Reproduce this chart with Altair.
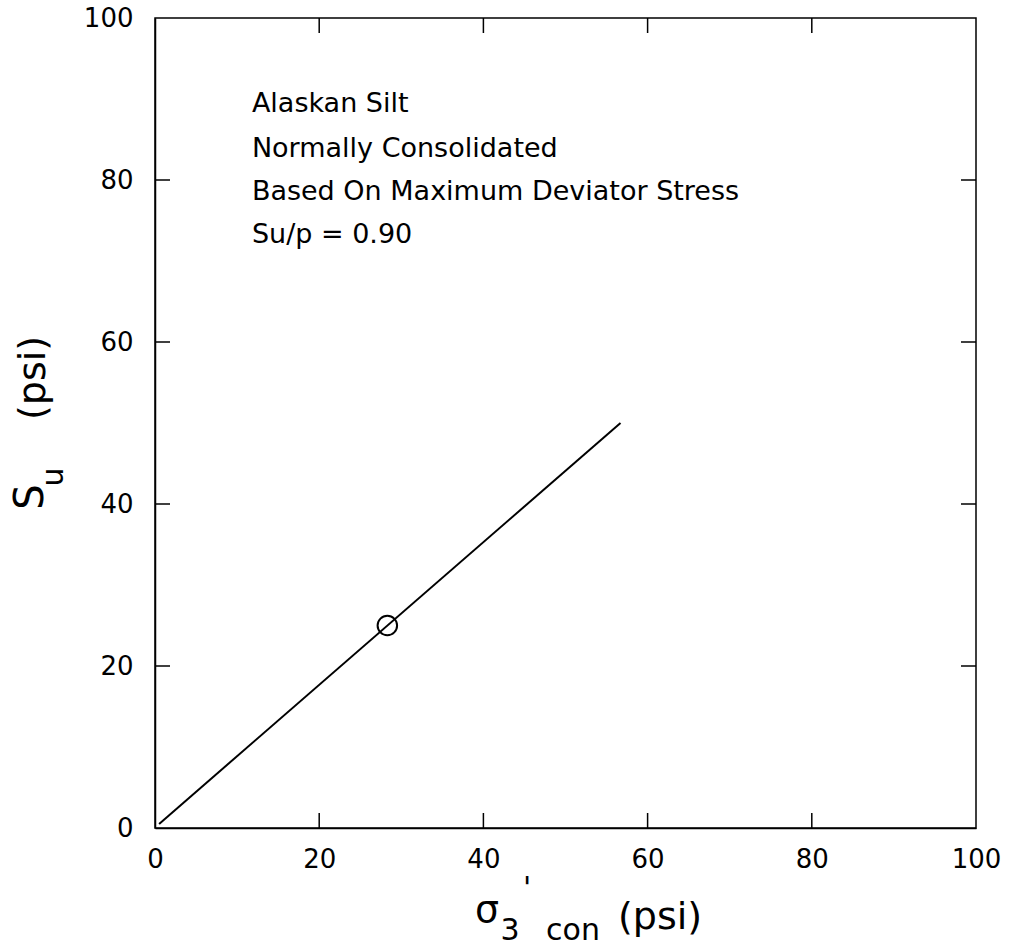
import altair as alt
import pandas as pd

# Data
line_x = [0.5, 56.7]
line_y = [0.5, 50.0]
point_x = [28.3]
point_y = [25.0]
tick_vals = [20, 40, 60, 80]
axis_vals = [0, 20, 40, 60, 80, 100]
notes = ["Alaskan Silt", "Normally Consolidated",
         "Based On Maximum Deviator Stress", "Su/p = 0.90"]
note_x = [11.8, 11.8, 11.8, 11.8]
note_y = [88.4, 82.9, 77.5, 72.2]

FONT = "DejaVu Sans"
W, H = 821, 810

xs = alt.Scale(domain=[0, 100], nice=False)
ys = alt.Scale(domain=[0, 100], nice=False)

line_df = pd.DataFrame({"x": line_x, "y": line_y})
pt_df = pd.DataFrame({"x": point_x, "y": point_y})
tick_df = pd.DataFrame({"t": tick_vals})
note_df = pd.DataFrame({"x": note_x, "y": note_y, "label": notes})

xaxis = alt.Axis(values=axis_vals, ticks=False, grid=False, title=None,
                 labelFontSize=26, labelFont=FONT, labelColor="black",
                 labelPadding=18, domainColor="black", domainWidth=1.5,
                 labelFlush=False)
yaxis = alt.Axis(values=axis_vals, ticks=False, grid=False, title=None,
                 labelFontSize=26, labelFont=FONT, labelColor="black",
                 labelPadding=22, domainColor="black", domainWidth=1.5,
                 labelFlush=False)

line = alt.Chart(line_df).mark_line(color="black", strokeWidth=2).encode(
    x=alt.X("x:Q", scale=xs, axis=xaxis),
    y=alt.Y("y:Q", scale=ys, axis=yaxis),
)

pt = alt.Chart(pt_df).mark_point(shape="circle", filled=False, color="black",
                                 strokeWidth=2, size=380, opacity=1).encode(
    x=alt.X("x:Q", scale=xs), y=alt.Y("y:Q", scale=ys))

tb = alt.Chart(tick_df).mark_rule(color="black", strokeWidth=1.5).encode(
    x=alt.X("t:Q", scale=xs), y=alt.value(H), y2=alt.value(H - 15))
tt = alt.Chart(tick_df).mark_rule(color="black", strokeWidth=1.5).encode(
    x=alt.X("t:Q", scale=xs), y=alt.value(0), y2=alt.value(15))
tl = alt.Chart(tick_df).mark_rule(color="black", strokeWidth=1.5).encode(
    y=alt.Y("t:Q", scale=ys), x=alt.value(0), x2=alt.value(15))
tr = alt.Chart(tick_df).mark_rule(color="black", strokeWidth=1.5).encode(
    y=alt.Y("t:Q", scale=ys), x=alt.value(W), x2=alt.value(W - 15))

note = alt.Chart(note_df).mark_text(align="left", baseline="alphabetic",
                                    font=FONT, fontSize=27, color="black").encode(
    x=alt.X("x:Q", scale=xs), y=alt.Y("y:Q", scale=ys), text="label:N")

def txt(s, x, y, size, align="center", angle=0):
    return alt.Chart(pd.DataFrame({"s": [s]})).mark_text(
        align=align, baseline="alphabetic", font=FONT, fontSize=size,
        color="black", angle=angle).encode(
        x=alt.value(x), y=alt.value(y), text="s:N")

# pixel offsets relative to plot origin (left=155, top=18)
L, T = 155, 18
titles = [
    txt("σ", 487 - L, 922 - T, 38),
    txt("3", 510 - L, 940 - T, 30),
    txt("'", 527 - L, 898 - T, 30),
    txt("con", 573 - L, 940 - T, 30),
    txt("(psi)", 618 - L, 929 - T, 38, align="left"),
    txt("S", 43 - L, 497 - T, 40, angle=270),
    txt("u", 63 - L, 477 - T, 30, angle=270),
    txt("(psi)", 45 - L, 378 - T, 38, angle=270),
]

chart = alt.layer(line, pt, tb, tt, tl, tr, note, *titles).properties(
    width=W, height=H,
    autosize=alt.AutoSizeParams(type="none"),
    padding={"left": L, "top": T, "right": 1011 - L - W, "bottom": 947 - T - H},
    background="white",
).configure_view(stroke="black", strokeWidth=1.5)

chart.save("out.html", embed_options={"renderer": "svg", "actions": False})
